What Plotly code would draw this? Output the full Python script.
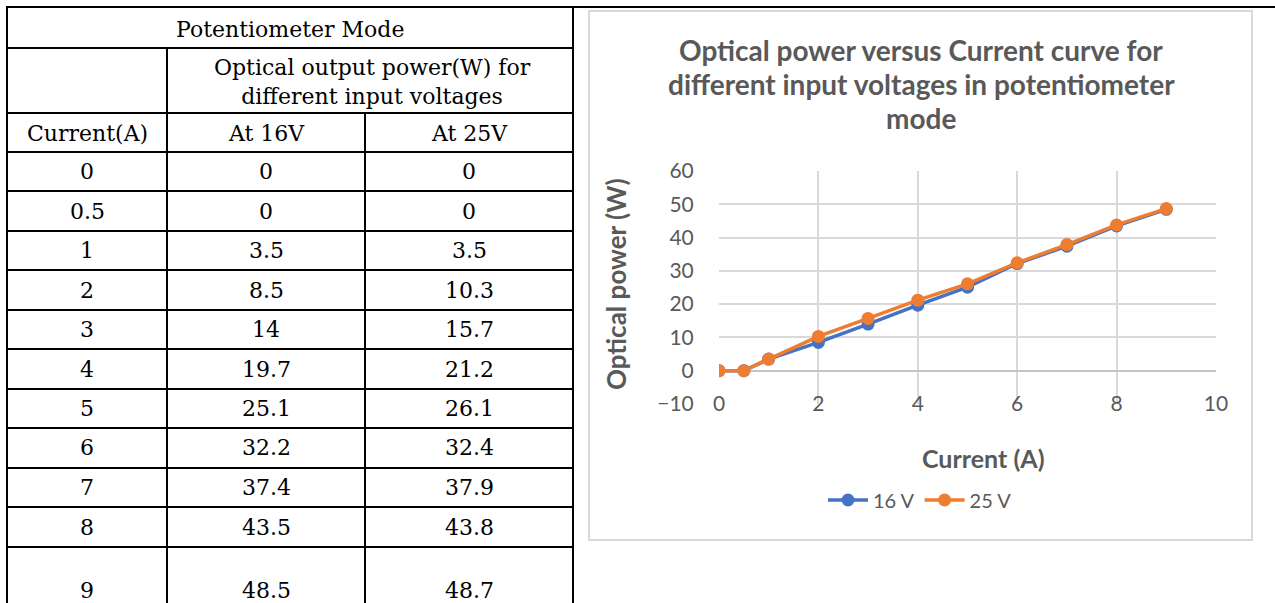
import plotly.graph_objects as go

# ---------------- data ----------------
current = [0, 0.5, 1, 2, 3, 4, 5, 6, 7, 8, 9]
power_16v = [0, 0, 3.5, 8.5, 14, 19.7, 25.1, 32.2, 37.4, 43.5, 48.5]
power_25v = [0, 0, 3.5, 10.3, 15.7, 21.2, 26.1, 32.4, 37.9, 43.8, 48.7]
series_names = ["16 V", "25 V"]
table_title = "Potentiometer Mode"
table_group_header = "Optical output power(W) for<br>different input voltages"
table_col_headers = ["Current(A)", "At 16V", "At 25V"]
chart_title_lines = ["Optical power versus Current curve for",
                     "different input voltages in potentiometer",
                     "mode"]
x_title = "Current (A)"
y_title = "Optical power (W)"
x_ticks = [0, 2, 4, 6, 8, 10]
y_ticks = [-10, 0, 10, 20, 30, 40, 50, 60]

W, H = 1275, 603

def px(x):
    return x / W

def py(y):
    return 1 - y / H

BLUE = "#4472C4"
ORANGE = "#ED7D31"
GREY_TXT = "#595959"
SERIF = "DejaVu Serif"
SANS = "Lato"

fig = go.Figure()
fig.add_trace(go.Scatter(
    x=current, y=power_16v, name=series_names[0], mode="lines+markers",
    line=dict(color=BLUE, width=3.5), marker=dict(color=BLUE, size=13),
))
fig.add_trace(go.Scatter(
    x=current, y=power_25v, name=series_names[1], mode="lines+markers",
    line=dict(color=ORANGE, width=3.5), marker=dict(color=ORANGE, size=13),
))

shapes = []
annotations = []

# ---------------- table ----------------
col_x = [7, 167, 365, 573]
row_lines = [152, 191, 231, 270, 310, 349, 389, 428, 468, 507, 547]
LINE = dict(color="black", width=2)

def hline(x0, x1, y):
    shapes.append(dict(type="line", xref="paper", yref="paper",
                       x0=px(x0), x1=px(x1), y0=py(y), y1=py(y), line=LINE))

def vline(x, y0, y1):
    shapes.append(dict(type="line", xref="paper", yref="paper",
                       x0=px(x), x1=px(x), y0=py(y0), y1=py(y1), line=LINE))

hline(6, W, 7)
hline(6, 573, 48)
hline(6, 573, 113)
for y in row_lines:
    hline(6, 573, y)
vline(7, 6, H)
vline(573, 6, H)
vline(167, 48, H)
vline(365, 113, H)

def cell_text(text, x, y, size=22):
    annotations.append(dict(text=text, x=px(x), y=py(y), xref="paper", yref="paper",
                            showarrow=False, xanchor="center", yanchor="middle",
                            font=dict(family=SERIF, size=size, color="black")))

cell_text(table_title, 290, 29)
cell_text(table_group_header, 372, 82)
col_centers = [(col_x[i] + col_x[i + 1]) / 2 for i in range(3)]
for c, t in zip(col_centers, table_col_headers):
    cell_text(t, c, 133)

row_centers = [(row_lines[i] + row_lines[i + 1]) / 2 for i in range(len(row_lines) - 1)] + [590]

def fmt(v):
    return str(int(v)) if float(v).is_integer() else str(v)

for i, yc in enumerate(row_centers):
    cell_text(fmt(current[i]), col_centers[0], yc)
    cell_text(fmt(power_16v[i]), col_centers[1], yc)
    cell_text(fmt(power_25v[i]), col_centers[2], yc)

# ---------------- chart frame and texts ----------------
shapes.append(dict(type="rect", xref="paper", yref="paper",
                   x0=px(589), x1=px(1252), y0=py(540), y1=py(11),
                   line=dict(color="#d9d9d9", width=2), layer="below"))

for line_text, yc in zip(chart_title_lines, [50, 84, 118]):
    annotations.append(dict(text=line_text, x=px(921), y=py(yc), xref="paper", yref="paper",
                            showarrow=False, xanchor="center", yanchor="middle",
                            font=dict(family=SANS, size=28, color=GREY_TXT, weight="bold")))
annotations.append(dict(text=y_title, x=px(616), y=py(284), xref="paper", yref="paper",
                        showarrow=False, xanchor="center", yanchor="middle", textangle=-90,
                        font=dict(family=SANS, size=26, color=GREY_TXT, weight="bold")))
annotations.append(dict(text=x_title, x=px(983), y=py(458), xref="paper", yref="paper",
                        showarrow=False, xanchor="center", yanchor="middle",
                        font=dict(family=SANS, size=25, color=GREY_TXT, weight="bold")))

fig.update_layout(
    width=W, height=H,
    margin=dict(l=0, r=0, t=0, b=0, pad=0, autoexpand=False),
    paper_bgcolor="white", plot_bgcolor="white",
    shapes=shapes, annotations=annotations,
    showlegend=True,
    legend=dict(orientation="h", x=px(920), xanchor="center", y=py(500), yanchor="middle",
                font=dict(family=SANS, size=20, color=GREY_TXT), bgcolor="rgba(0,0,0,0)",
                itemwidth=40),
    xaxis=dict(domain=[px(719), px(1216)], range=[0, 10], tickvals=x_ticks,
               showgrid=True, gridcolor="#d9d9d9", gridwidth=1.5, zeroline=False, showline=False,
               ticks="", ticklabelstandoff=-15, automargin=False,
               tickfont=dict(family=SANS, size=21, color=GREY_TXT)),
    yaxis=dict(domain=[py(404), py(171)], range=[-10, 60], tickvals=y_ticks,
               showgrid=True, gridcolor="#d9d9d9", gridwidth=1.5, zeroline=True,
               zerolinecolor="#c4c4c4", zerolinewidth=2, showline=False, automargin=False,
               ticks="outside", ticklen=20, tickcolor="rgba(0,0,0,0)",
               tickfont=dict(family=SANS, size=21, color=GREY_TXT)),
)

fig.write_html("out.html", config={"displayModeBar": False},
               post_script="document.body.style.margin='0';document.body.style.overflow='hidden';")
